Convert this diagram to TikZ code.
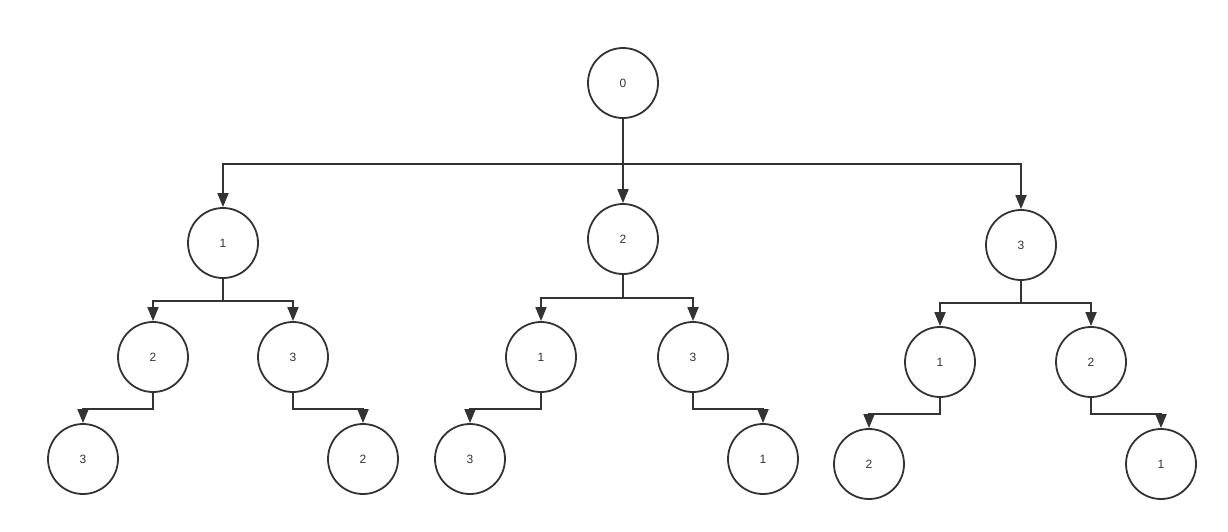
\documentclass[tikz,border=0pt]{standalone}
\usepackage{fontspec}
\setmainfont{Liberation Sans}
\usetikzlibrary{arrows.meta}

\definecolor{linegray}{HTML}{333333}

\tikzset{
  state/.style={circle, draw=linegray, line width=1.8pt, minimum size=70pt,
    inner sep=0pt, text=linegray, font=\fontsize{12}{14}\selectfont},
  link/.style={draw=linegray, line width=1.8pt,
    -{Triangle[length=14pt, width=11pt]}}
}

\begin{document}
\begin{tikzpicture}[x=1pt, y=-1pt]
    \useasboundingbox (0,0) rectangle (1228,531);

    % root
    \node[state] (n0) at (623, 83) {0};

    % first level
    \node[state] (n1) at (223, 243) {1};
    \node[state] (n2) at (623, 239) {2};
    \node[state] (n3) at (1021, 245) {3};

    % second level
    \node[state] (n12) at (153, 357) {2};
    \node[state] (n13) at (293, 357) {3};
    \node[state] (n21) at (541, 357) {1};
    \node[state] (n23) at (693, 357) {3};
    \node[state] (n31) at (940, 362) {1};
    \node[state] (n32) at (1091, 362) {2};

    % third level
    \node[state] (n123) at (83, 459) {3};
    \node[state] (n132) at (363, 459) {2};
    \node[state] (n213) at (470, 459) {3};
    \node[state] (n231) at (763, 459) {1};
    \node[state] (n312) at (869, 464) {2};
    \node[state] (n321) at (1161, 464) {1};

    % elbow connectors
    \foreach \p/\c/\d in {n0/n1/45, n0/n2/45, n0/n3/45,
                          n1/n12/22, n1/n13/22, n2/n21/23, n2/n23/23,
                          n3/n31/22, n3/n32/22,
                          n12/n123/16, n13/n132/16, n21/n213/16,
                          n23/n231/16, n31/n312/16, n32/n321/16}
        \draw[link] (\p.south) -- ++(0,\d) -| (\c.north);
\end{tikzpicture}
\end{document}
